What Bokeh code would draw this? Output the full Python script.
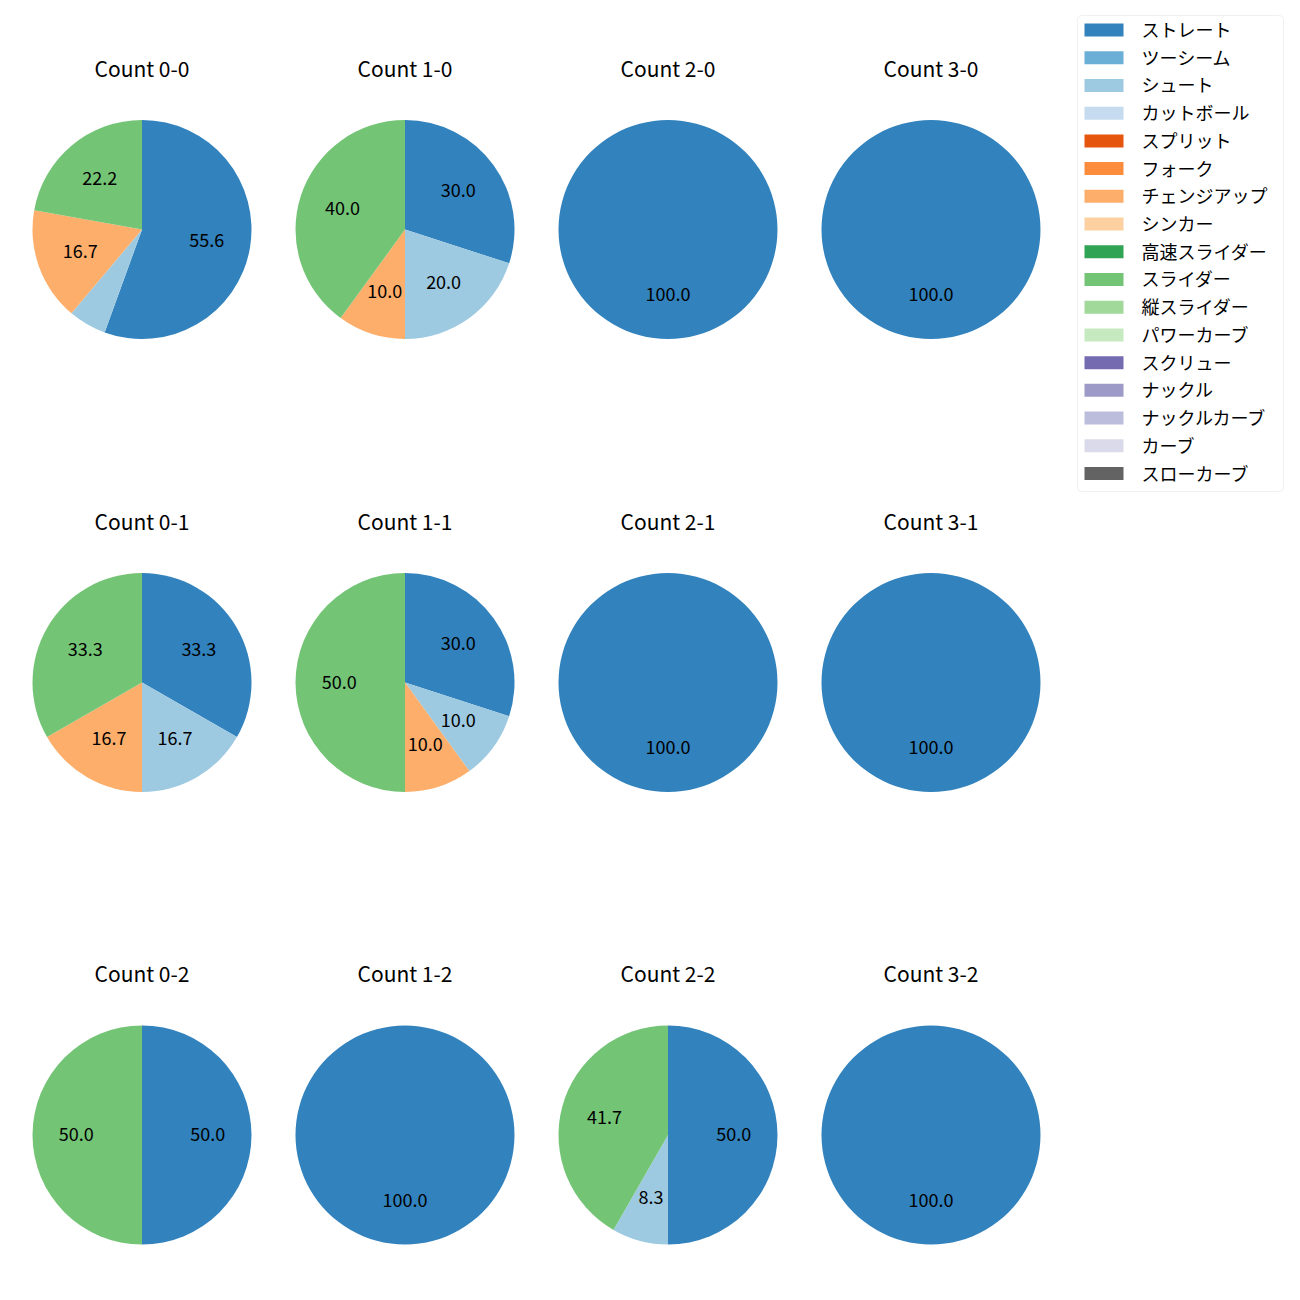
import math
from bokeh.plotting import figure
from bokeh.models import Range1d, BoxAnnotation
from bokeh.core.properties import value
from bokeh.embed import file_html
from bokeh.resources import INLINE

# ---- data ----
pitch_names = ["ストレート", "ツーシーム", "シュート", "カットボール", "スプリット", "フォーク",
               "チェンジアップ", "シンカー", "高速スライダー", "スライダー", "縦スライダー",
               "パワーカーブ", "スクリュー", "ナックル", "ナックルカーブ", "カーブ", "スローカーブ"]
pitch_colors = ["#3182bd", "#6baed6", "#9ecae1", "#c6dbef", "#e6550d", "#fd8d3c",
                "#fdae6b", "#fdd0a2", "#31a354", "#74c476", "#a1d99b", "#c7e9c0",
                "#756bb1", "#9e9ac8", "#bcbddc", "#dadaeb", "#636363"]

counts = ["0-0", "1-0", "2-0", "3-0",
          "0-1", "1-1", "2-1", "3-1",
          "0-2", "1-2", "2-2", "3-2"]
straight = [55.6, 30.0, 100.0, 100.0, 33.3, 30.0, 100.0, 100.0, 50.0, 100.0, 50.0, 100.0]
shoot    = [5.6, 20.0, 0.0, 0.0, 16.7, 10.0, 0.0, 0.0, 0.0, 0.0, 8.3, 0.0]
changeup = [16.7, 10.0, 0.0, 0.0, 16.7, 10.0, 0.0, 0.0, 0.0, 0.0, 0.0, 0.0]
slider   = [22.2, 40.0, 0.0, 0.0, 33.3, 50.0, 0.0, 0.0, 50.0, 0.0, 41.7, 0.0]

series = {"ストレート": straight, "シュート": shoot, "チェンジアップ": changeup, "スライダー": slider}

# ---- layout (reference pixel coordinates; y measured from top) ----
W = H = 1284
FONT = "Noto Sans CJK JP"
col_x = [141.5, 404.5, 667.5, 930.5]
row_y = [229.0, 682.0, 1134.5]
R = 109.5
title_dy = 160

def Y(y):
    return 1300 - y

p = figure(width=W, height=H, output_backend="svg", toolbar_location=None,
           x_range=Range1d(0, 1284), y_range=Range1d(16, 1300),
           min_border=0, outline_line_color=None, background_fill_color="white")
p.axis.visible = False
p.grid.visible = False

wx, wy, ws, we, wc = [], [], [], [], []
lx, ly, lt = [], [], []
tx, ty, tt = [], [], []
for k, cnt in enumerate(counts):
    cx = col_x[k % 4]
    cy = Y(row_y[k // 4])
    total = sum(series[n][k] for n in series)
    cum = 0.0
    for name in pitch_names:
        if name not in series:
            continue
        v = series[name][k] / total * 100.0
        if v <= 0:
            continue
        a1 = 90 - cum * 3.6
        a2 = a1 - min(v * 3.6, 359.99)
        wx.append(cx); wy.append(cy); ws.append(a2); we.append(a1)
        wc.append(pitch_colors[pitch_names.index(name)])
        mid = math.radians(90 - (cum + v / 2) * 3.6)
        if v >= 8:
            lx.append(cx + 0.6 * R * math.cos(mid))
            ly.append(cy + 0.6 * R * math.sin(mid))
            lt.append(f"{series[name][k]:.1f}")
        cum += v
    tx.append(cx); ty.append(cy + title_dy); tt.append(f"Count {cnt}")

p.wedge(x=wx, y=wy, radius=R, start_angle=ws, end_angle=we, start_angle_units="deg",
        end_angle_units="deg", direction="anticlock", fill_color=wc, line_color=None)
p.text(x=lx, y=ly, text=lt, text_font=value(FONT), text_font_size="18px", y_offset=-1,
       text_align="center", text_baseline="middle", text_color="black")
p.text(x=tx, y=ty, text=tt, text_font=value(FONT), text_font_size="21px", y_offset=-2,
       text_align="center", text_baseline="middle", text_color="black")

# ---- legend ----
box = BoxAnnotation(left=1077, right=1283, top=Y(15), bottom=Y(491), level="underlay",
                    fill_color="white", fill_alpha=0.8, line_color="#cccccc", line_width=1,
                    border_radius=4)
p.add_layout(box)
leg_y = [Y(29.5 + i * 27.72) for i in range(len(pitch_names))]
p.rect(x=[1103.5] * len(pitch_names), y=leg_y, width=39, height=13,
       fill_color=pitch_colors, line_color=None)
p.text(x=[1141] * len(pitch_names), y=leg_y, text=pitch_names, text_font=value(FONT),
       text_font_size="18px", y_offset=-1, text_align="left", text_baseline="middle",
       text_color="black")

open("out.html", "w").write(file_html(p, INLINE))
